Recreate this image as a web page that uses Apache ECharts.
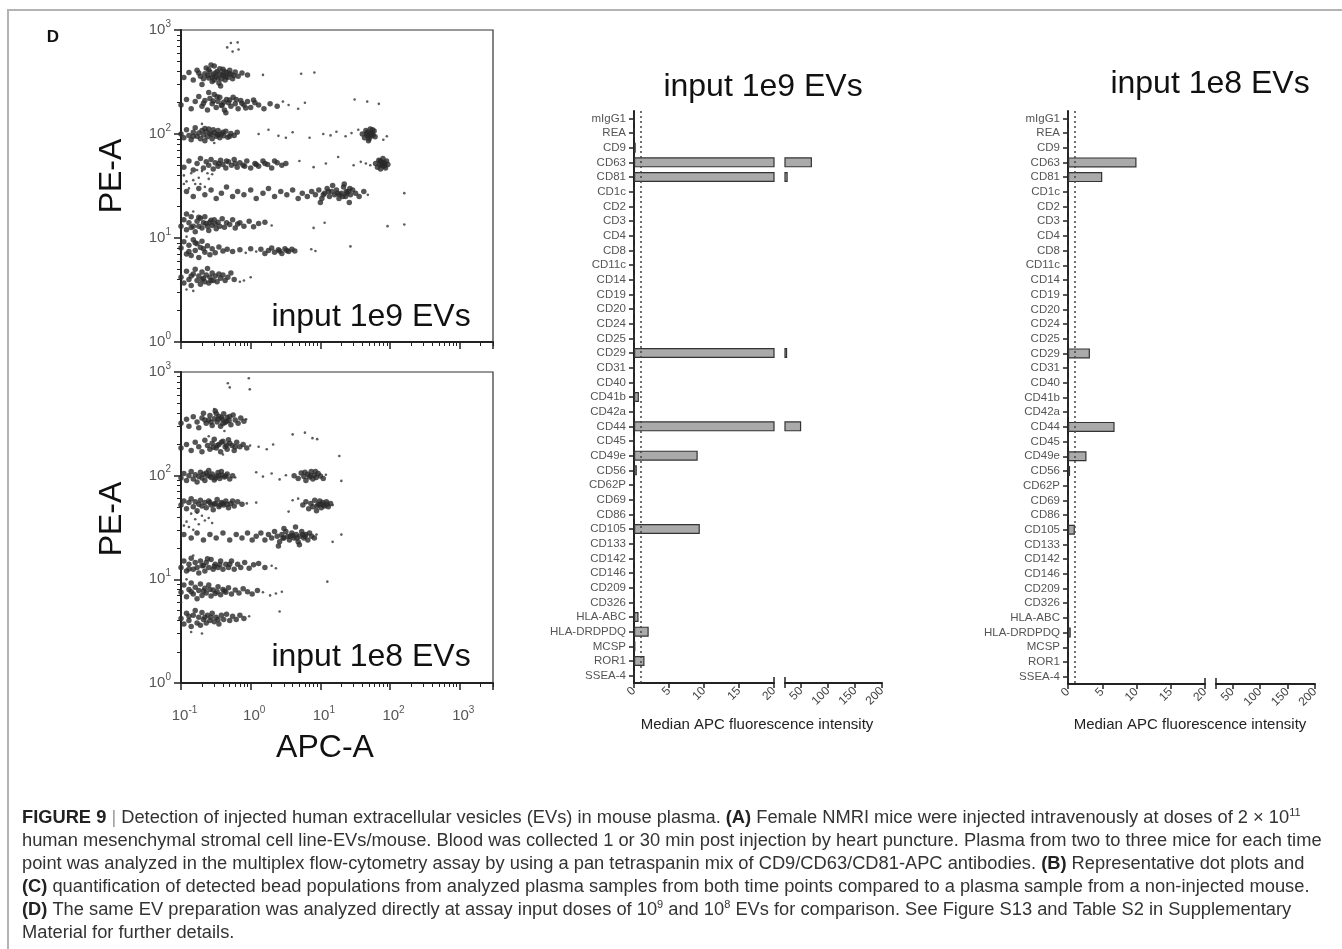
<!DOCTYPE html>
<html><head><meta charset="utf-8">
<script src="https://cdn.jsdelivr.net/npm/echarts@6/dist/echarts.min.js"></script>
<style>html,body{margin:0;padding:0;background:#fff}#c{width:1342px;height:949px}</style>
</head><body><div id="c"></div>
<script>
// ---------- DATA ----------
const markers = ['mIgG1','REA','CD9','CD63','CD81','CD1c','CD2','CD3','CD4','CD8','CD11c','CD14','CD19','CD20','CD24','CD25','CD29','CD31','CD40','CD41b','CD42a','CD44','CD45','CD49e','CD56','CD62P','CD69','CD86','CD105','CD133','CD142','CD146','CD209','CD326','HLA-ABC','HLA-DRDPDQ','MCSP','ROR1','SSEA-4'];
const mfi1e9 = [0,0,0.25,70,25,0,0,0,0,0,0,0,0,0,0,0,24,0,0,0.7,0,50,0,9.1,0.4,0,0,0,9.4,0,0,0,0,0,0.65,2.1,0.2,1.5,0];
const mfi1e8 = [0,0,0,10,5,0,0,0,0,0,0,0,0,0,0,0,3.2,0,0,0,0,6.8,0,2.7,0.3,0,0,0,1.0,0,0,0,0,0,0.15,0.4,0,0,0];
const cutoff = 1;
const lowTicks = [0,5,10,15,20];
const highTicks = [20,50,100,150,200];
const highLabels = [50,100,150,200];
const minorX = [0.2,0.3,0.4,0.5,0.6,0.7,0.8,0.9,2,3,4,5,6,7,8,9,20,30,40,50,60,70,80,90,200,300,400,500,600,700,800,900,2000,3000];
const minorY = [2,3,4,5,6,7,8,9,20,30,40,50,60,70,80,90,200,300,400,500,600,700,800,900];

// dot plot, input 1e9 EVs: dense bead populations [APC-A, PE-A]
const core1e9 = [
[0.11,350],[0.13,390],[0.15,330],[0.17,410],[0.19,360],[0.2,300],[0.22,380],[0.23,430],[0.25,345],[0.26,395],[0.28,320],[0.29,370],[0.3,450],[0.32,355],[0.33,400],[0.35,310],[0.36,380],[0.38,340],[0.4,420],[0.41,365],[0.43,330],[0.45,390],[0.47,350],[0.5,410],[0.52,375],[0.55,340],[0.6,395],[0.66,360],[0.75,385],[0.9,370],[0.27,460],[0.37,290],[0.24,365],[0.31,385],[0.34,345],[0.39,372],[0.42,398],[0.28,352],[0.21,340],[0.3,330],[0.44,355],[0.36,425],[0.25,415],[0.18,385],[0.49,380],[0.57,365],
[0.1,190],[0.12,215],[0.14,175],[0.16,205],[0.18,230],[0.2,185],[0.22,210],[0.24,170],[0.26,220],[0.28,195],[0.3,240],[0.32,180],[0.34,205],[0.36,225],[0.39,190],[0.42,170],[0.45,215],[0.48,200],[0.52,185],[0.56,225],[0.6,195],[0.66,175],[0.72,210],[0.8,190],[0.9,205],[1.0,180],[1.15,200],[1.3,190],[1.55,175],[1.9,195],[2.4,185],[0.25,250],[0.44,160],[0.21,198],[0.29,208],[0.38,188],[0.5,212],[0.62,215],[0.75,198],[0.85,178],[1.1,212],[0.33,228],[0.41,202],
[0.1,100],[0.11,92],[0.12,110],[0.13,97],[0.14,88],[0.15,104],[0.16,115],[0.17,95],[0.18,102],[0.19,90],[0.2,108],[0.21,98],[0.22,86],[0.23,105],[0.24,94],[0.25,112],[0.27,99],[0.28,90],[0.3,103],[0.32,95],[0.34,108],[0.36,92],[0.38,100],[0.41,96],[0.44,106],[0.47,93],[0.52,101],[0.58,97],[0.64,104],[0.26,101],[0.33,99],[0.15,95],[0.22,113],[0.29,110],[0.35,98],[0.4,104],[0.5,95],
[40,100],[43,92],[45,108],[47,97],[48,104],[50,90],[51,100],[52,112],[53,95],[55,103],[57,98],[59,107],[61,94],[49,86],[54,100],[46,101],[50,96],[56,110],
[0.11,48],[0.13,55],[0.15,45],[0.17,52],[0.19,58],[0.21,47],[0.23,54],[0.25,50],[0.27,57],[0.29,46],[0.31,53],[0.34,49],[0.37,56],[0.4,51],[0.44,47],[0.48,54],[0.53,50],[0.58,57],[0.64,48],[0.7,53],[0.78,50],[0.88,55],[1.0,47],[1.15,52],[1.3,49],[1.5,55],[1.75,51],[2.0,47],[2.4,53],[2.8,50],[3.2,52],[0.35,52],[0.6,52],[1.2,51],[0.45,55],[0.82,49],[1.6,52],[2.2,55],
[62,52],[66,48],[69,56],[71,51],[73,46],[75,54],[77,50],[79,58],[81,49],[83,53],[86,47],[89,55],[93,51],[76,52],[80,52],[72,55],[84,50],
[0.12,28],[0.15,25],[0.18,30],[0.22,26],[0.27,29],[0.32,24],[0.38,27],[0.45,31],[0.55,25],[0.65,28],[0.8,26],[1.0,29],[1.2,24],[1.5,27],[1.8,30],[2.2,25],[2.7,28],[3.3,26],[4,29],[4.8,24],[5.5,27],[6.5,25],[7.5,28],[8.5,26],[9.5,29],[10.5,24],[11.5,27],[12.5,30],[13.5,25],[14.5,28],[16,26],[17,29],[18.5,24],[20,27],[21.5,31],[23,25],[25,28],[27,26],[29,29],[32,27],[36,25],[42,28],[10,22],[15,32],[22,33],[26,22],[11,26],[13,28],[19,26],[24,27],[17.5,27],[21,25],[23.5,28],[26.5,30],
[0.1,13],[0.11,15],[0.12,12],[0.13,14],[0.14,16],[0.15,13],[0.16,11.5],[0.17,14.5],[0.18,13],[0.19,15.5],[0.2,12.5],[0.21,14],[0.22,16],[0.24,13],[0.25,11.8],[0.27,14.8],[0.28,13.2],[0.3,15],[0.32,12.3],[0.34,14.2],[0.36,13],[0.39,15.3],[0.42,12.7],[0.45,14],[0.5,13.5],[0.55,15],[0.6,12.5],[0.7,14],[0.8,13],[0.95,14.5],[1.1,12.8],[1.3,13.8],[1.6,14.2],[0.12,17],[0.23,13.8],[0.31,13.6],[0.14,12.6],[0.18,15.8],[0.26,14.2],[0.65,13.6],
[0.1,8],[0.11,9.2],[0.12,7],[0.13,8.5],[0.14,6.8],[0.15,9.6],[0.16,7.6],[0.17,8.8],[0.18,6.5],[0.19,8.1],[0.2,9.3],[0.22,7.3],[0.24,8.4],[0.26,6.9],[0.28,7.9],[0.31,7.2],[0.35,8.2],[0.4,7.5],[0.46,7.8],[0.55,7.4],[0.7,7.7],[1.0,7.9],[1.4,7.8],[1.6,7.1],[1.8,7.6],[2.0,8],[2.2,7.3],[2.5,7.7],[2.8,7.1],[3.1,7.9],[3.5,7.4],[3.9,7.8],[4.3,7.5],[2.6,7.5],[3.3,7.6],[0.13,7.4],[0.16,9],[0.21,7.9],
[0.1,4.2],[0.11,3.7],[0.12,4.8],[0.13,4],[0.14,3.5],[0.15,4.5],[0.16,5],[0.17,3.9],[0.18,4.3],[0.19,3.6],[0.2,4.7],[0.21,4.1],[0.22,3.8],[0.23,4.4],[0.24,5.1],[0.25,3.7],[0.26,4.2],[0.28,4.6],[0.29,3.9],[0.31,4.3],[0.33,3.8],[0.35,4.5],[0.37,4.1],[0.4,4.4],[0.43,3.9],[0.47,4.2],[0.52,4.6],[0.58,4],[0.14,4.3],[0.2,4],[0.27,3.9]
];
// dot plot, input 1e9 EVs: scattered events [APC-A, PE-A]
const stray1e9 = [
[0.46,680],[0.52,750],[0.65,760],[0.67,650],[0.55,620],[1.5,370],[5.3,380],[8.2,390],
[3.5,190],[4.8,175],[6,200],[31,215],[47,205],[69,195],[2.9,205],[0.2,125],[0.3,82],
[1.3,100],[2.5,96],[4,104],[7,92],[11,100],[17,105],[23,95],[28,102],[35,110],[90,95],[80,88],[1.8,110],[3.2,92],[14,97],
[5,55],[8,48],[12,52],[18,60],[30,50],[38,54],[45,52],[52,50],
[0.11,40],[0.12,35],[0.14,42],[0.16,33],[0.18,38],[0.2,44],[0.22,31],[0.13,30],[0.25,37],[0.15,36],[0.19,33],[0.28,41],[0.11,33],[0.17,45],[0.24,42],
[48,26],[160,27],[92,13],[160,13.5],[27,8.3],[11.5,14],[8,12.5],[2.0,13.2],[0.15,18],
[7.4,7.8],[8.5,7.5],[0.85,7.2],[1.2,7.4],[0.12,10.3],[0.1,6.2],
[0.12,3.2],[0.15,3.1],[0.7,3.8],[0.8,3.9],[1.0,4.2]
];

// dot plot, input 1e8 EVs: dense bead populations [APC-A, PE-A]
const core1e8 = [
[0.1,320],[0.12,350],[0.13,300],[0.15,370],[0.17,330],[0.18,290],[0.2,360],[0.21,400],[0.23,320],[0.25,345],[0.26,380],[0.28,305],[0.3,355],[0.31,420],[0.33,330],[0.35,375],[0.37,300],[0.39,350],[0.41,395],[0.43,325],[0.46,365],[0.49,340],[0.52,310],[0.56,385],[0.6,345],[0.66,320],[0.72,360],[0.8,335],[0.34,352],[0.45,335],[0.38,362],[0.27,330],[0.32,398],[0.4,318],[0.5,372],[0.22,345],
[0.1,185],[0.12,200],[0.14,175],[0.16,210],[0.18,190],[0.2,170],[0.22,220],[0.24,195],[0.26,180],[0.28,205],[0.3,225],[0.32,185],[0.35,200],[0.37,170],[0.4,215],[0.43,190],[0.46,180],[0.5,205],[0.54,195],[0.58,175],[0.63,210],[0.7,190],[0.78,200],[0.88,185],[0.33,195],[0.45,198],[0.29,188],[0.38,210],[0.48,222],[0.6,190],
[0.1,95],[0.11,105],[0.12,90],[0.13,100],[0.14,110],[0.15,93],[0.16,102],[0.17,87],[0.18,98],[0.19,108],[0.2,95],[0.21,103],[0.22,90],[0.24,100],[0.25,112],[0.27,96],[0.28,104],[0.3,91],[0.32,99],[0.34,107],[0.36,94],[0.39,101],[0.42,97],[0.46,104],[0.5,93],[0.55,100],[0.26,99],[0.35,100],[0.23,106],[0.31,95],[0.38,110],[0.44,99],
[4.2,100],[4.8,94],[5.3,106],[5.8,98],[6.2,90],[6.6,103],[7,97],[7.4,110],[7.8,93],[8.2,101],[8.7,96],[9.3,105],[10,99],[11,94],[7.2,100],[6,108],[8.5,110],
[0.1,52],[0.11,57],[0.12,48],[0.13,55],[0.14,60],[0.15,50],[0.16,56],[0.17,46],[0.18,53],[0.19,58],[0.2,51],[0.22,55],[0.23,49],[0.25,57],[0.27,52],[0.29,47],[0.31,54],[0.33,59],[0.35,50],[0.38,55],[0.41,52],[0.44,57],[0.48,49],[0.52,54],[0.58,51],[0.65,56],[0.75,53],[0.3,53],[0.4,54],[0.26,55],[0.36,52],[0.46,53],[0.55,57],
[5.6,52],[6.2,56],[6.8,48],[7.3,54],[7.8,50],[8.3,58],[8.8,46],[9.3,53],[9.8,57],[10.3,49],[10.8,55],[11.5,51],[12.2,56],[13,50],[14,54],[9,51],[10,53],[11,52],[12.5,53],
[0.11,27],[0.14,25],[0.17,28],[0.21,24],[0.26,27],[0.32,25],[0.4,28],[0.5,24],[0.62,27],[0.75,25],[0.9,28],[1.05,24],[1.2,26],[1.4,28],[1.6,24],[1.8,27],[2.0,25],[2.2,29],[2.4,26],[2.6,23],[2.8,27],[3.0,25],[3.2,29],[3.4,26],[3.6,24],[3.9,28],[4.2,25],[4.5,27],[4.8,23],[5.1,26],[5.4,29],[5.8,25],[6.2,27],[6.6,24],[7.0,28],[7.5,26],[8.2,25],[3,31],[4.4,32],[2.5,21],[5,21.5],[3.7,26],[4.6,25],[5.6,27],[2.9,25],[4,26.5],[6,26],
[0.1,13],[0.11,15],[0.12,12],[0.13,14],[0.14,16],[0.15,12.5],[0.16,14.5],[0.17,13],[0.18,11.5],[0.19,15],[0.2,13.5],[0.22,12],[0.23,14.5],[0.25,13],[0.27,15.5],[0.29,12.5],[0.31,14],[0.34,13],[0.37,15],[0.4,12.5],[0.44,14],[0.48,13],[0.53,15],[0.58,12.5],[0.65,14],[0.72,13],[0.82,14.5],[0.95,12.8],[1.1,13.8],[1.3,14.2],[1.6,13],[0.21,13.6],[0.3,13.4],[0.13,12.6],[0.24,15.8],[0.36,13.8],[0.5,14],
[0.1,7.5],[0.11,8.8],[0.12,6.8],[0.13,8],[0.14,9.2],[0.15,7.2],[0.16,8.4],[0.17,6.5],[0.18,7.8],[0.19,9],[0.2,7],[0.22,8.2],[0.23,7.4],[0.25,8.8],[0.27,6.9],[0.29,7.9],[0.31,7.3],[0.34,8.5],[0.37,7.1],[0.4,8],[0.44,7.5],[0.48,8.3],[0.53,7.2],[0.6,7.9],[0.68,7.4],[0.78,8.1],[0.9,7.6],[1.05,7.2],[1.25,7.8],[0.21,7.7],[0.33,7.6],[0.14,7.6],[0.26,8],[0.42,7.7],
[0.1,4.2],[0.11,3.7],[0.12,4.7],[0.13,4],[0.14,3.5],[0.15,4.5],[0.16,5],[0.17,3.8],[0.18,4.3],[0.19,3.6],[0.2,4.8],[0.21,4.1],[0.23,3.8],[0.24,4.5],[0.26,4],[0.28,4.7],[0.3,3.9],[0.32,4.3],[0.35,3.7],[0.38,4.5],[0.41,4.1],[0.45,4.6],[0.5,4],[0.55,4.4],[0.62,4.1],[0.7,4.5],[0.8,4.2],[0.27,4.3],[0.13,4.4],[0.22,4.3],[0.34,4.1]
];
// dot plot, input 1e8 EVs: scattered events [APC-A, PE-A]
const stray1e8 = [
[0.47,780],[0.5,710],[0.94,870],[0.97,680],[0.86,350],[0.3,440],[0.42,270],
[0.98,195],[0.25,240],[0.4,160],[1.3,190],[1.7,180],[2.1,200],[4,250],[6,260],[9,225],[7.7,230],[18.7,155],[20,89],
[0.6,96],[1.5,98],[2,105],[2.6,92],[3.2,101],[1.2,108],[12,102],
[0.88,54],[15,52],[4,58],[4.8,60],[1.2,55],[3.5,45],
[0.1,40],[0.12,36],[0.14,43],[0.16,38],[0.18,34],[0.2,41],[0.22,37],[0.13,32],[0.25,39],[0.28,35],[0.11,33],[0.17,44],[0.15,30],
[8.8,27],[15,23],[20,27],[12.6,9.5],[2.6,4.9],
[2.0,13.5],[2.3,12.8],[0.15,17],
[1.5,7.5],[0.12,10],[0.1,6],[1.9,7],[2.3,7.3],[2.8,7.6],
[0.95,4.4],[0.14,3.1],[0.2,3]
];

// ---------- CHART ----------
const FF = '"Liberation Sans", Arial, Helvetica, sans-serif';
const chart = echarts.init(document.getElementById('c'), null, {renderer: 'canvas'});

const supRichY = {
  b: {fontSize: 15, color: '#555', fontFamily: FF},
  s: {fontSize: 10, color: '#555', fontFamily: FF, padding: [0, 0, 12, 0]}
};
const supRichX = {
  b: {fontSize: 15, color: '#555', fontFamily: FF, padding: [0, 0, 0, 7]},
  s: {fontSize: 10, color: '#555', fontFamily: FF, padding: [0, 0, 12, 0]}
};
function supLabel(v) {
  const e = Math.log10(v);
  if (Math.abs(e - Math.round(e)) > 1e-6) return '';
  return '{b|10}{s|' + Math.round(e) + '}';
}
const axisDark = {color: '#222', width: 2};
const tickDark = {color: '#222', width: 1.5};

function logX(g, showLabel) {
  return {type: 'log', logBase: 10, gridIndex: g, min: 0.1, max: 3000, position: 'bottom',
    axisLine: {show: true, onZero: false, lineStyle: axisDark},
    axisTick: {show: true, length: 7, lineStyle: tickDark},
    axisLabel: {show: showLabel, margin: 22, formatter: supLabel, rich: supRichX},
    splitLine: {show: false}};
}
function minorXAxis(g) {
  return {type: 'value', gridIndex: g, min: -1, max: Math.log10(3000), position: 'bottom',
    axisLine: {show: false, onZero: false}, axisLabel: {show: false}, splitLine: {show: false},
    axisTick: {show: true, length: 4, lineStyle: {color: '#222', width: 1}, customValues: minorX.map(Math.log10)}};
}
function logY(g) {
  return {type: 'log', logBase: 10, gridIndex: g, min: 1, max: 1000, position: 'left',
    axisLine: {show: true, onZero: false, lineStyle: axisDark},
    axisTick: {show: true, length: 7, lineStyle: tickDark},
    axisLabel: {show: true, margin: 10, formatter: supLabel, rich: supRichY},
    splitLine: {show: false}};
}
function minorYAxis(g) {
  return {type: 'value', gridIndex: g, min: 0, max: 3, position: 'left',
    axisLine: {show: false, onZero: false}, axisLabel: {show: false}, splitLine: {show: false},
    axisTick: {show: true, length: 4, lineStyle: {color: '#222', width: 1}, customValues: minorY.map(Math.log10)}};
}
function lowAxis(g) {
  return {type: 'value', gridIndex: g, min: 0, max: 20, interval: 5, position: 'bottom',
    axisLine: {show: true, onZero: false, lineStyle: axisDark},
    axisTick: {show: true, length: 5, lineStyle: tickDark, customValues: lowTicks},
    axisLabel: {rotate: 45, fontSize: 12, color: '#444', margin: 6, fontFamily: FF, customValues: lowTicks},
    splitLine: {show: false}};
}
function highAxis(g) {
  return {type: 'value', gridIndex: g, min: 20, max: 200, position: 'bottom',
    axisLine: {show: true, onZero: false, lineStyle: axisDark},
    axisTick: {show: true, length: 5, lineStyle: tickDark, customValues: highTicks},
    axisLabel: {rotate: 45, fontSize: 12, color: '#444', margin: 6, fontFamily: FF, customValues: highLabels},
    splitLine: {show: false}};
}
function breakTick(g, lo, hi) {
  return {type: 'value', gridIndex: g, min: lo, max: hi, position: 'bottom',
    axisLine: {show: false, onZero: false}, axisLabel: {show: false}, splitLine: {show: false},
    axisTick: {show: true, inside: true, length: 6, lineStyle: tickDark, customValues: [20]}};
}
function catAxis(g, show) {
  return {type: 'category', gridIndex: g, data: markers, inverse: true, position: 'left',
    axisLine: {show: show, onZero: false, lineStyle: axisDark},
    axisTick: {show: show, alignWithLabel: true, length: 5, lineStyle: tickDark},
    axisLabel: {show: show, fontSize: 11.5, color: '#555', margin: 8, fontFamily: FF, interval: 0},
    splitLine: {show: false}};
}
const barStyle = {color: '#aaaaaa', borderColor: '#333', borderWidth: 1.2};
function barSeries(xi, yi, data, withCutoff) {
  const s = {type: 'bar', xAxisIndex: xi, yAxisIndex: yi, data: data, barWidth: 10,
    itemStyle: barStyle, clip: true, silent: true};
  if (withCutoff) {
    s.markLine = {silent: true, symbol: 'none', label: {show: false},
      lineStyle: {type: [2, 3], color: '#444', width: 1.5}, data: [{xAxis: cutoff}]};
  }
  return s;
}
const above = arr => arr.map(v => v > 20 ? v : '-');
function dotSeries(xi, yi, data, size, color) {
  return {type: 'scatter', xAxisIndex: xi, yAxisIndex: yi, data: data, symbolSize: size,
    itemStyle: {color: color}, silent: true, clip: true};
}

const CAP = 18.3;
const capRich = {
  b: {fontWeight: 'bold', fontSize: CAP, fill: '#222', fontFamily: FF},
  g: {fontSize: CAP, fill: '#999', fontFamily: FF},
  s: {fontSize: 11, fill: '#333', fontFamily: FF, padding: [0, 0, 11, 0]}
};
const captionLines = [
  '{b|FIGURE 9} {g||} Detection of injected human extracellular vesicles (EVs) in mouse plasma. {b|(A)} Female NMRI mice were injected intravenously at doses of 2 × 10{s|11}',
  'human mesenchymal stromal cell line-EVs/mouse. Blood was collected 1 or 30 min post injection by heart puncture. Plasma from two to three mice for each time',
  'point was analyzed in the multiplex flow-cytometry assay by using a pan tetraspanin mix of CD9/CD63/CD81-APC antibodies. {b|(B)} Representative dot plots and',
  '{b|(C)} quantification of detected bead populations from analyzed plasma samples from both time points compared to a plasma sample from a non-injected mouse.',
  '{b|(D)} The same EV preparation was analyzed directly at assay input doses of 10{s|9} and 10{s|8} EVs for comparison. See Figure S13 and Table S2 in Supplementary',
  'Material for further details.'
];
function txt(x, y, text, size, opts) {
  return Object.assign({type: 'text', x: x, y: y, silent: true,
    style: Object.assign({text: text, fontSize: size, fontFamily: FF, fill: '#111', align: 'center', verticalAlign: 'middle'}, (opts && opts.style) || {})},
    (opts && opts.el) || {});
}
const graphics = [
  {type: 'rect', silent: true, z: -10, shape: {x: 8, y: 10, width: 1400, height: 1000}, style: {fill: 'none', stroke: '#b3b3b3', lineWidth: 2}},
  txt(53, 37, 'D', 17, {style: {fontWeight: 'bold'}}),
  txt(112, 176, 'PE-A', 32, {el: {rotation: Math.PI / 2}}),
  txt(112, 519, 'PE-A', 32, {el: {rotation: Math.PI / 2}}),
  txt(325, 748, 'APC-A', 32),
  txt(371, 317, 'input 1e9 EVs', 32),
  txt(371, 657, 'input 1e8 EVs', 32),
  txt(763, 87, 'input 1e9 EVs', 32),
  txt(1210, 84, 'input 1e8 EVs', 32),
  txt(757, 725, 'Median APC fluorescence intensity', 15, {style: {fill: '#222'}}),
  txt(1190, 725, 'Median APC fluorescence intensity', 15, {style: {fill: '#222'}})
];
captionLines.forEach((line, i) => {
  graphics.push(txt(22, 818 + i * 23, line, CAP, {style: {align: 'left', fill: '#333', rich: capRich}}));
});

const option = {
  animation: false,
  backgroundColor: '#fff',
  grid: [
    {left: 181, top: 30, width: 312, height: 312, show: true, borderColor: '#333', borderWidth: 1.2, backgroundColor: 'transparent'},
    {left: 181, top: 372, width: 312, height: 311, show: true, borderColor: '#333', borderWidth: 1.2, backgroundColor: 'transparent'},
    {left: 634, top: 111, width: 140, height: 572},
    {left: 785, top: 111, width: 97, height: 572},
    {left: 1068, top: 111, width: 137, height: 573},
    {left: 1216, top: 111, width: 99, height: 573}
  ],
  xAxis: [
    logX(0, false), minorXAxis(0),
    logX(1, true), minorXAxis(1),
    lowAxis(2), highAxis(3), lowAxis(4), highAxis(5),
    breakTick(2, 0, 20), breakTick(3, 20, 200), breakTick(4, 0, 20), breakTick(5, 20, 200)
  ],
  yAxis: [
    logY(0), minorYAxis(0),
    logY(1), minorYAxis(1),
    catAxis(2, true), catAxis(3, false), catAxis(4, true), catAxis(5, false)
  ],
  series: [
    dotSeries(0, 0, core1e9, 5.5, '#2b2b2b'),
    dotSeries(0, 0, stray1e9, 2.6, '#333'),
    dotSeries(2, 2, core1e8, 5.5, '#2b2b2b'),
    dotSeries(2, 2, stray1e8, 2.6, '#333'),
    barSeries(4, 4, mfi1e9, true),
    barSeries(5, 5, above(mfi1e9), false),
    barSeries(6, 6, mfi1e8, true),
    barSeries(7, 7, above(mfi1e8), false)
  ],
  graphic: graphics
};
chart.setOption(option);
</script></body></html>
